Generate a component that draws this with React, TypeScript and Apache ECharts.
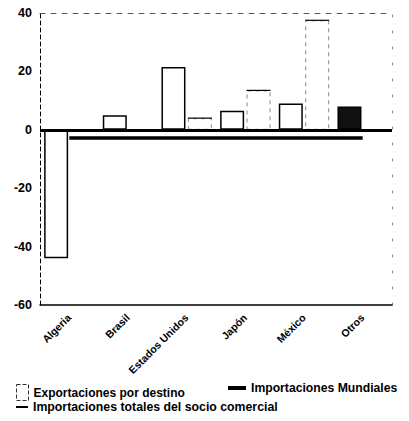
import React, { useEffect, useRef } from "react";
import * as echarts from "echarts";

const categories = ["Algeria", "Brasil", "Estados Unidos", "Japón", "México", "Otros"];
const exportsByDest = [-44, 5, 21.5, 6.5, 9, 8];
const partnerImports = [null, null, 4, 13.5, 37.5, null];
const worldImports = [-2.8, -2.8, -2.8, -2.8, -2.8, -2.8];
const yTicks = { min: -60, max: 40, interval: 20 };

const FONT = "'Liberation Sans', Arial, sans-serif";
const NAME_EXP = "Exportaciones por destino";
const NAME_IMP = "Importaciones totales del socio comercial";
const NAME_WORLD = "Importaciones Mundiales";

export default function App() {
  const ref = useRef<HTMLDivElement>(null);
  useEffect(() => {
    document.body.style.margin = "0";
    const chart = echarts.init(ref.current!, null, { renderer: "svg" });
    const legendText = { fontFamily: FONT, fontWeight: "bold", fontSize: 12, color: "#000" };
    chart.setOption({
      animation: false,
      backgroundColor: "#fff",
      grid: { left: 40, right: 17, top: 13, bottom: 116 },
      legend: [
        {
          data: [{ name: NAME_EXP, icon: "rect", itemStyle: { color: "#fff", borderColor: "#333", borderWidth: 1, borderType: "dashed" } }],
          left: 16, top: 384, padding: 0, itemWidth: 12, itemHeight: 16, textStyle: legendText,
        },
        {
          data: [{ name: NAME_WORLD, icon: "rect", itemStyle: { color: "#000" } }],
          left: 228, top: 382, padding: 0, itemWidth: 18, itemHeight: 4, textStyle: { ...legendText, fontSize: 12.2 },
        },
        {
          data: [{ name: NAME_IMP, icon: "rect", itemStyle: { color: "#000", borderWidth: 0 } }],
          left: 16, top: 401, padding: 0, itemWidth: 12, itemHeight: 2, textStyle: { ...legendText, fontSize: 12.3 },
        },
      ],
      xAxis: [
        {
          type: "category",
          data: categories,
          axisLine: { onZero: false, lineStyle: { color: "#000", width: 1.5 } },
          axisTick: { show: false },
          axisLabel: {
            rotate: 45, interval: 0, margin: 11, fontFamily: FONT, fontWeight: "bold", fontSize: 10.5, color: "#000",
          },
        },
        {
          type: "category",
          data: categories,
          position: "top",
          axisLine: { onZero: false, lineStyle: { color: "#555", width: 1, type: [5, 6] } },
          axisTick: { show: false },
          axisLabel: { show: false },
        },
      ],
      yAxis: [
        {
          type: "value",
          min: yTicks.min, max: yTicks.max, interval: yTicks.interval,
          axisLine: { show: true, lineStyle: { color: "#000", width: 1, type: [4, 3] } },
          axisTick: { show: false },
          splitLine: { show: false },
          axisLabel: { margin: 8, fontFamily: FONT, fontWeight: "bold", fontSize: 12.5, color: "#000" },
        },
        {
          type: "value",
          position: "right",
          min: yTicks.min, max: yTicks.max, interval: yTicks.interval,
          axisLine: { show: true, lineStyle: { color: "#888", width: 1, type: [2, 14] } },
          axisTick: { show: false },
          splitLine: { show: false },
          axisLabel: { show: false },
        },
      ],
      series: [
        {
          name: NAME_EXP,
          type: "bar",
          barWidth: 24,
          barGap: "10%",
          data: exportsByDest.map((v, i) =>
            i === 5
              ? { value: v, itemStyle: { color: "#111", borderColor: "#000", borderWidth: 1.5 } }
              : v
          ),
          itemStyle: { color: "#fff", borderColor: "#000", borderWidth: 1.5 },
          markLine: {
            silent: true,
            symbol: "none",
            label: { show: false },
            lineStyle: { color: "#000", width: 3, type: "solid" },
            data: [{ yAxis: 0 }],
          },
          z: 2,
        },
        {
          name: NAME_IMP,
          type: "bar",
          barWidth: 24,
          barGap: "10%",
          data: partnerImports,
          itemStyle: { color: "rgba(0,0,0,0)", borderColor: "#888", borderWidth: 1, borderType: [4, 4] },
          z: 2,
        },
        {
          name: "imp-top",
          type: "custom",
          data: partnerImports.map((v, i) => [i, v]),
          renderItem: (params: any, api: any) => {
            const v = api.value(1);
            if (v === null || v === undefined || isNaN(v)) return null;
            const c = api.coord([api.value(0), v]);
            const off = 13.2;
            return {
              type: "line",
              shape: { x1: c[0] + off - 12, y1: c[1], x2: c[0] + off + 12, y2: c[1] },
              style: { stroke: "#000", lineWidth: 1.2 },
            };
          },
          z: 3,
        },
        {
          name: NAME_WORLD,
          type: "line",
          data: worldImports,
          symbol: "none",
          lineStyle: { color: "#000", width: 3.5 },
          itemStyle: { color: "#000" },
          z: 4,
        },
      ],
    });
    return () => chart.dispose();
  }, []);
  return <div ref={ref} style={{ width: 409, height: 421 }} />;
}
